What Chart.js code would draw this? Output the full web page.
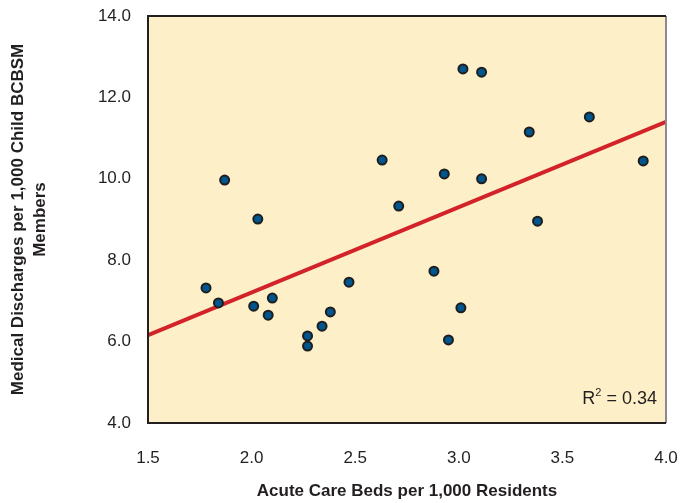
<!DOCTYPE html>
<html><head><meta charset="utf-8">
<script src="https://cdn.jsdelivr.net/npm/chart.js@4"></script>
<style>html,body{margin:0;padding:0;background:#fff}</style>
</head><body>
<canvas id="c" width="681" height="503"></canvas>
<script>
// Acute care beds per 1,000 residents (x) vs medical discharges per 1,000 child members (y)
const bedsX = [1.78, 1.84, 1.87, 2.01, 2.03, 2.08, 2.10, 2.27, 2.27, 2.34, 2.38, 2.47,
               2.63, 2.71, 2.88, 2.93, 2.95, 3.01, 3.02, 3.11, 3.11, 3.34, 3.38, 3.63, 3.89];
const dischargesY = [7.32, 6.95, 9.97, 6.87, 9.01, 6.65, 7.07, 6.14, 5.89, 6.38, 6.73, 7.46,
                     10.46, 9.33, 7.73, 10.12, 6.04, 6.83, 12.70, 12.62, 10.00, 11.15, 8.96, 11.52, 10.44];
const trendX = [1.5, 4.0];
const trendY = [6.16, 11.40];
const xTicks = [1.5, 2.0, 2.5, 3.0, 3.5, 4.0];
const yTicks = [4, 6, 8, 10, 12, 14];
const xTitle = 'Acute Care Beds per 1,000 Residents';
const yTitle = ['Medical Discharges per 1,000 Child BCBSM', 'Members'];
const r2Value = '0.34';

const FONT = "'Liberation Sans', Arial, sans-serif";
const TXT = '#231f20';

const framePlugin = {
  id: 'frame',
  beforeDatasetsDraw(chart) {
    const {ctx, chartArea: a} = chart;
    ctx.save();
    ctx.fillStyle = '#fdefc8';
    ctx.fillRect(a.left, a.top, a.right - a.left, a.bottom - a.top);
    ctx.restore();
  },
  afterDatasetsDraw(chart) {
    const {ctx, chartArea: a} = chart;
    ctx.save();
    ctx.lineWidth = 2;
    ctx.strokeStyle = '#8a8a8a';
    ctx.beginPath();
    ctx.moveTo(a.right, a.top); ctx.lineTo(a.right, a.bottom);
    ctx.stroke();
    ctx.strokeStyle = '#231f20';
    ctx.beginPath();
    ctx.moveTo(a.right, a.top); ctx.lineTo(a.left, a.top);
    ctx.lineTo(a.left, a.bottom); ctx.lineTo(a.right, a.bottom);
    ctx.stroke();
    // R² annotation
    const baseY = a.bottom - 19;
    const rightX = a.right - 9;
    ctx.fillStyle = TXT;
    ctx.textBaseline = 'alphabetic';
    ctx.textAlign = 'left';
    ctx.font = '18px ' + FONT;
    const rest = ' = ' + r2Value;
    const wRest = ctx.measureText(rest).width;
    ctx.font = '11px ' + FONT;
    const wSup = ctx.measureText('2').width;
    ctx.font = '18px ' + FONT;
    const wR = ctx.measureText('R').width;
    let x0 = rightX - wRest - wSup - wR;
    ctx.fillText('R', x0, baseY);
    ctx.fillText(rest, x0 + wR + wSup, baseY);
    ctx.font = '11px ' + FONT;
    ctx.fillText('2', x0 + wR, baseY - 8);
    ctx.restore();
  }
};

new Chart(document.getElementById('c'), {
  type: 'scatter',
  data: {
    datasets: [
      {
        type: 'scatter',
        data: bedsX.map((x, i) => ({x, y: dischargesY[i]})),
        backgroundColor: '#00558c',
        borderColor: '#1e1e1e',
        borderWidth: 2,
        pointRadius: 4.5,
        order: 0
      },
      {
        type: 'line',
        data: trendX.map((x, i) => ({x, y: trendY[i]})),
        borderColor: '#d2232a',
        borderWidth: 4,
        pointRadius: 0,
        fill: false,
        order: 1
      }
    ]
  },
  options: {
    responsive: false,
    animation: false,
    devicePixelRatio: 1,
    layout: {padding: {top: 16, right: 15, left: 0, bottom: 0}},
    plugins: {legend: {display: false}, tooltip: {enabled: false}},
    scales: {
      x: {
        type: 'linear', min: xTicks[0], max: xTicks[xTicks.length - 1],
        afterBuildTicks: s => { s.ticks = xTicks.map(v => ({value: v})); },
        afterFit: s => { s.height = 80; },
        grid: {display: true, drawOnChartArea: false, drawTicks: true, tickLength: 25, tickColor: 'rgba(0,0,0,0)', color: 'rgba(0,0,0,0)'},
        border: {display: false},
        ticks: {padding: 0, color: TXT, font: {family: FONT, size: 17}, callback: v => v.toFixed(1), maxRotation: 0},
        title: {display: true, text: xTitle, color: TXT, font: {family: FONT, size: 17, weight: 'bold'}, padding: {top: 0, bottom: 1}}
      },
      y: {
        type: 'linear', min: yTicks[0], max: yTicks[yTicks.length - 1],
        afterBuildTicks: s => { s.ticks = yTicks.map(v => ({value: v})); },
        afterFit: s => { s.width = 148; },
        grid: {display: true, drawOnChartArea: false, drawTicks: true, tickLength: 17, tickColor: 'rgba(0,0,0,0)', color: 'rgba(0,0,0,0)'},
        border: {display: false},
        ticks: {padding: 0, color: TXT, font: {family: FONT, size: 17}, callback: v => v.toFixed(1)},
        title: {display: true, text: yTitle, color: TXT, font: {family: FONT, size: 17, weight: 'bold', lineHeight: 1.3}, padding: {top: 7, bottom: 0}}
      }
    }
  },
  plugins: [framePlugin]
});
</script>
</body></html>
